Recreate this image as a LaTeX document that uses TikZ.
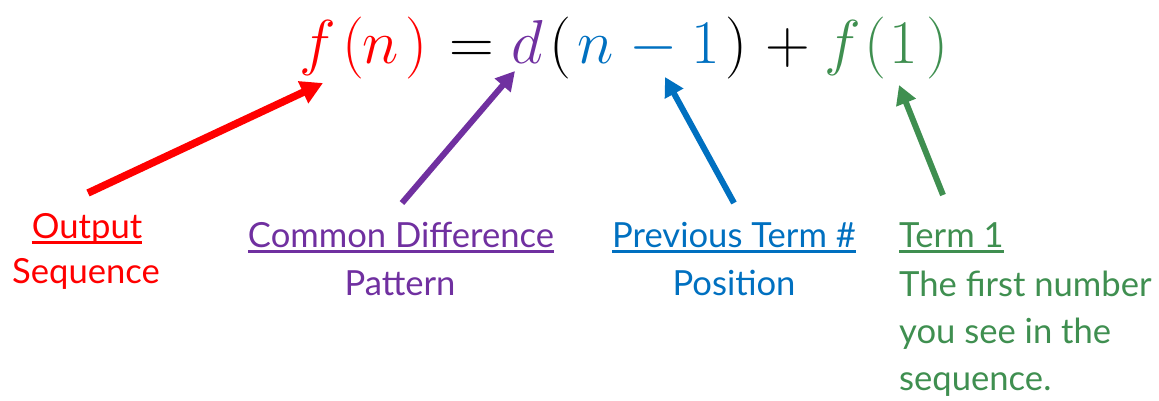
\RequirePackage{fix-cm}
\documentclass[tikz,border=0pt]{standalone}
\usepackage{fontspec}
\newfontfamily\lbl{Lato}
\usetikzlibrary{arrows.meta}
\definecolor{cred}{HTML}{FF0000}
\definecolor{cpur}{HTML}{7030A0}
\definecolor{cblu}{HTML}{0070C0}
\definecolor{cgrn}{HTML}{3F8F50}
\begin{document}
\begin{tikzpicture}[x=1pt,y=-1pt,
  eq/.style={inner sep=0pt, anchor=base west, font=\fontsize{62}{62}\selectfont},
  lab/.style={inner sep=0pt, anchor=base, font=\lbl\fontsize{34.6}{40}\selectfont},
  labl/.style={lab, anchor=base west},
  ul/.style={line width=2.2pt},
  arr/.style={line width=6pt, -{Triangle[length=19pt,width=20pt]}},
  bigarr/.style={line width=7.5pt, -{Triangle[length=22pt,width=23pt]}}]
\useasboundingbox (0,0) rectangle (1159,400);
% equation
\node[eq,text=cred] (e1) at (299,63) {$f$};
\node[eq,text=cred] (e2) at (342,63) {$($};
\node[eq,text=cred] (e3) at (362,63) {$n$};
\node[eq,text=cred] (e4) at (405,63) {$)$};
\node[eq] (e5) at (449,63) {$=$};
\node[eq,text=cpur] (e6) at (511,63) {$d$};
\node[eq] (e7) at (549,63) {$($};
\node[eq,text=cblu] (e8) at (577,63) {$n$};
\node[eq,text=cblu] (e9) at (629,63) {$-$};
\node[eq,text=cblu] (e10) at (691,63) {$1$};
\node[eq] (e11) at (725,63) {$)$};
\node[eq] (e12) at (765,63) {$+$};
\node[eq,text=cgrn] (e13) at (824,63) {$f$};
\node[eq,text=cgrn] (e14) at (864,63) {$($};
\node[eq,text=cgrn] (e15) at (889,63) {$1$};
\node[eq,text=cgrn] (e16) at (926,63) {$)$};
% labels
\node[lab,text=cred] (out) at (87,238) {Output};
\node[lab,text=cred] (seq) at (86,283) {Sequence};
\node[lab,text=cpur] (cd) at (401,247) {Common Difference};
\node[lab,text=cpur] (pat) at (400,295) {Pattern};
\node[lab,text=cblu] (ptn) at (734,247) {Previous Term \#};
\node[lab,text=cblu] (pos) at (734,295) {Position};
\node[labl,text=cgrn] (t1) at (899,247) {Term 1};
\node[labl,text=cgrn] (t2) at (899,296) {The first number};
\node[labl,text=cgrn] (t3) at (899,343) {you see in the};
\node[labl,text=cgrn] (t4) at (899,390) {sequence.};
% underlines
\draw[ul,cred] ([yshift=-4.5pt]out.base west) -- ([yshift=-4.5pt]out.base east);
\draw[ul,cpur] ([yshift=-4.5pt]cd.base west) -- ([yshift=-4.5pt]cd.base east);
\draw[ul,cblu] ([yshift=-4.5pt]ptn.base west) -- ([yshift=-4.5pt]ptn.base east);
\draw[ul,cgrn] ([yshift=-4.5pt]t1.base west) -- ([yshift=-4.5pt]t1.base east);
% arrows
\coordinate (rt) at (88,193);  \coordinate (rh) at (323,83);
\coordinate (pt) at (402,203); \coordinate (ph) at (515,71);
\coordinate (bt) at (734,203); \coordinate (bh) at (665,77);
\coordinate (gt) at (943,195); \coordinate (gh) at (899,85);
\draw[bigarr,cred] (rt) -- (rh);
\draw[arr,cpur] (pt) -- (ph);
\draw[arr,cblu] (bt) -- (bh);
\draw[arr,cgrn] (gt) -- (gh);
\end{tikzpicture}
\end{document}
